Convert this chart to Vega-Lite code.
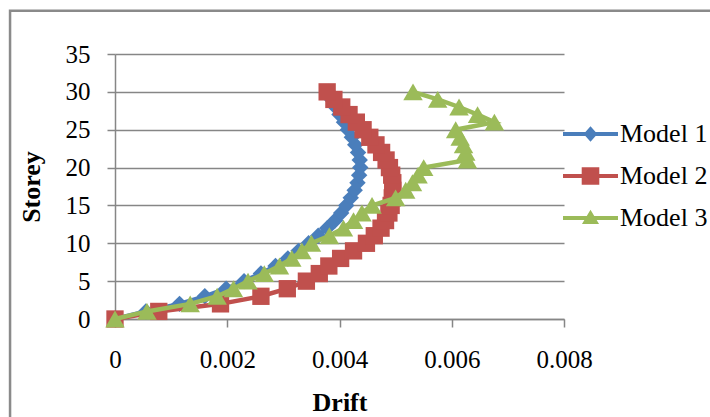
{
  "$schema": "https://vega.github.io/schema/vega-lite/v6.json",
  "autosize": {"type": "none"},
  "width": 449,
  "height": 265,
  "padding": {"left": 115, "top": 54, "right": 146, "bottom": 98},
  "background": "white",
  "config": {
    "font": "Liberation Serif",
    "view": {"stroke": null},
    "axis": {"labelFont": "Liberation Serif", "titleFont": "Liberation Serif", "labelFontSize": 25, "titleFontSize": 26, "titleFontWeight": "bold", "labelColor": "#000000", "titleColor": "#000000", "domainColor": "#868686", "domainWidth": 1.5, "tickColor": "#868686", "tickWidth": 1.5, "tickSize": 8, "gridColor": "#868686", "gridWidth": 1.5}
  },
  "datasets": {
    "drift": [
      {"model": "Model 1", "storey": 0, "drift": 0},
      {"model": "Model 1", "storey": 1, "drift": 0.00055},
      {"model": "Model 1", "storey": 2, "drift": 0.00115},
      {"model": "Model 1", "storey": 3, "drift": 0.0016},
      {"model": "Model 1", "storey": 4, "drift": 0.00198},
      {"model": "Model 1", "storey": 5, "drift": 0.0023},
      {"model": "Model 1", "storey": 6, "drift": 0.0026},
      {"model": "Model 1", "storey": 7, "drift": 0.00286},
      {"model": "Model 1", "storey": 8, "drift": 0.00308},
      {"model": "Model 1", "storey": 9, "drift": 0.00327},
      {"model": "Model 1", "storey": 10, "drift": 0.00345},
      {"model": "Model 1", "storey": 11, "drift": 0.00362},
      {"model": "Model 1", "storey": 12, "drift": 0.00378},
      {"model": "Model 1", "storey": 13, "drift": 0.00392},
      {"model": "Model 1", "storey": 14, "drift": 0.00403},
      {"model": "Model 1", "storey": 15, "drift": 0.00412},
      {"model": "Model 1", "storey": 16, "drift": 0.0042},
      {"model": "Model 1", "storey": 17, "drift": 0.00427},
      {"model": "Model 1", "storey": 18, "drift": 0.00432},
      {"model": "Model 1", "storey": 19, "drift": 0.00435},
      {"model": "Model 1", "storey": 20, "drift": 0.00437},
      {"model": "Model 1", "storey": 21, "drift": 0.00436},
      {"model": "Model 1", "storey": 22, "drift": 0.00433},
      {"model": "Model 1", "storey": 23, "drift": 0.00428},
      {"model": "Model 1", "storey": 24, "drift": 0.00422},
      {"model": "Model 1", "storey": 25, "drift": 0.00415},
      {"model": "Model 1", "storey": 26, "drift": 0.00408},
      {"model": "Model 1", "storey": 27, "drift": 0.004},
      {"model": "Model 1", "storey": 28, "drift": 0.00393},
      {"model": "Model 1", "storey": 29, "drift": 0.00386},
      {"model": "Model 1", "storey": 30, "drift": 0.0038},
      {"model": "Model 2", "storey": 0, "drift": 0},
      {"model": "Model 2", "storey": 1, "drift": 0.00078},
      {"model": "Model 2", "storey": 2, "drift": 0.00188},
      {"model": "Model 2", "storey": 3, "drift": 0.0026},
      {"model": "Model 2", "storey": 4, "drift": 0.00307},
      {"model": "Model 2", "storey": 5, "drift": 0.00341},
      {"model": "Model 2", "storey": 6, "drift": 0.00364},
      {"model": "Model 2", "storey": 7, "drift": 0.00381},
      {"model": "Model 2", "storey": 8, "drift": 0.00402},
      {"model": "Model 2", "storey": 9, "drift": 0.00425},
      {"model": "Model 2", "storey": 10, "drift": 0.00448},
      {"model": "Model 2", "storey": 11, "drift": 0.00462},
      {"model": "Model 2", "storey": 12, "drift": 0.00474},
      {"model": "Model 2", "storey": 13, "drift": 0.00482},
      {"model": "Model 2", "storey": 14, "drift": 0.00488},
      {"model": "Model 2", "storey": 15, "drift": 0.00492},
      {"model": "Model 2", "storey": 16, "drift": 0.00494},
      {"model": "Model 2", "storey": 17, "drift": 0.00495},
      {"model": "Model 2", "storey": 18, "drift": 0.00495},
      {"model": "Model 2", "storey": 19, "drift": 0.00493},
      {"model": "Model 2", "storey": 20, "drift": 0.00489},
      {"model": "Model 2", "storey": 21, "drift": 0.00483},
      {"model": "Model 2", "storey": 22, "drift": 0.00475},
      {"model": "Model 2", "storey": 23, "drift": 0.00465},
      {"model": "Model 2", "storey": 24, "drift": 0.00454},
      {"model": "Model 2", "storey": 25, "drift": 0.00442},
      {"model": "Model 2", "storey": 26, "drift": 0.0043},
      {"model": "Model 2", "storey": 27, "drift": 0.00417},
      {"model": "Model 2", "storey": 28, "drift": 0.00404},
      {"model": "Model 2", "storey": 29, "drift": 0.0039},
      {"model": "Model 2", "storey": 30, "drift": 0.00378},
      {"model": "Model 3", "storey": 0, "drift": 0},
      {"model": "Model 3", "storey": 1, "drift": 0.00057},
      {"model": "Model 3", "storey": 2, "drift": 0.00134},
      {"model": "Model 3", "storey": 3, "drift": 0.00182},
      {"model": "Model 3", "storey": 4, "drift": 0.00211},
      {"model": "Model 3", "storey": 5, "drift": 0.00237},
      {"model": "Model 3", "storey": 6, "drift": 0.00266},
      {"model": "Model 3", "storey": 7, "drift": 0.00293},
      {"model": "Model 3", "storey": 8, "drift": 0.00315},
      {"model": "Model 3", "storey": 9, "drift": 0.00333},
      {"model": "Model 3", "storey": 10, "drift": 0.0035},
      {"model": "Model 3", "storey": 11, "drift": 0.00382},
      {"model": "Model 3", "storey": 12, "drift": 0.00407},
      {"model": "Model 3", "storey": 13, "drift": 0.00425},
      {"model": "Model 3", "storey": 14, "drift": 0.0044},
      {"model": "Model 3", "storey": 15, "drift": 0.00458},
      {"model": "Model 3", "storey": 16, "drift": 0.005},
      {"model": "Model 3", "storey": 17, "drift": 0.00518},
      {"model": "Model 3", "storey": 18, "drift": 0.0053},
      {"model": "Model 3", "storey": 19, "drift": 0.0054},
      {"model": "Model 3", "storey": 20, "drift": 0.0055},
      {"model": "Model 3", "storey": 21, "drift": 0.00628},
      {"model": "Model 3", "storey": 22, "drift": 0.00625},
      {"model": "Model 3", "storey": 23, "drift": 0.00621},
      {"model": "Model 3", "storey": 24, "drift": 0.00615},
      {"model": "Model 3", "storey": 25, "drift": 0.00607},
      {"model": "Model 3", "storey": 26, "drift": 0.00676},
      {"model": "Model 3", "storey": 27, "drift": 0.00646},
      {"model": "Model 3", "storey": 28, "drift": 0.00613},
      {"model": "Model 3", "storey": 29, "drift": 0.00575},
      {"model": "Model 3", "storey": 30, "drift": 0.00531}
    ],
    "frame": [{"x0": -0.00187, "x1": 0.0108, "y0": 40.7, "y1": -14}]
  },
  "layer": [
    {
      "data": {"name": "frame"},
      "mark": {"type": "rect", "fill": "transparent", "stroke": "#8a8a8a", "strokeWidth": 2.5},
      "encoding": {
        "x": {"field": "x0", "type": "quantitative", "scale": {"domain": [0, 0.008], "nice": false, "zero": false},
          "axis": {"title": "Drift", "values": [0, 0.002, 0.004, 0.006, 0.008], "format": "~g", "grid": false, "labelPadding": 20, "titlePadding": 17, "labelFlush": false}},
        "x2": {"field": "x1"},
        "y": {"field": "y0", "type": "quantitative", "scale": {"domain": [0, 35], "nice": false, "zero": false},
          "axis": {"title": "Storey", "values": [0, 5, 10, 15, 20, 25, 30, 35], "grid": true, "labelPadding": 17, "titlePadding": 21}},
        "y2": {"field": "y1"}
      }
    },
    {
      "data": {"name": "drift"},
      "encoding": {
        "x": {"field": "drift", "type": "quantitative", "scale": {"domain": [0, 0.008], "nice": false, "zero": false},
          "axis": {"title": "Drift", "values": [0, 0.002, 0.004, 0.006, 0.008], "format": "~g", "grid": false, "labelPadding": 20, "titlePadding": 17, "labelFlush": false}},
        "y": {"field": "storey", "type": "quantitative", "scale": {"domain": [0, 35], "nice": false, "zero": false},
          "axis": {"title": "Storey", "values": [0, 5, 10, 15, 20, 25, 30, 35], "grid": true, "labelPadding": 17, "titlePadding": 21}},
        "order": {"field": "storey", "type": "quantitative"},
        "color": {"field": "model", "type": "nominal",
          "scale": {"domain": ["Model 1", "Model 2", "Model 3"], "range": ["#4A7EBB", "#C0504D", "#9BBB59"]},
          "legend": {
            "title": null, "orient": "none", "legendX": 448, "legendY": 52.5, "padding": 0,
            "symbolSize": 3025, "symbolStrokeWidth": 0, "labelOffset": 2, "rowPadding": 1,
            "labelFont": "Liberation Serif", "labelFontSize": 26, "labelColor": "#000000", "labelLimit": 200,
            "encode": {"symbols": {"update": {
              "shape": {"signal": "datum.value === 'Model 1' ? 'M-1,-0.075L1,-0.075L1,0.075L-1,0.075Z M0,-0.28L0.25,0L0,0.28L-0.25,0Z' : datum.value === 'Model 2' ? 'M-1,-0.075L1,-0.075L1,0.075L-1,0.075Z M-0.32,-0.32L0.32,-0.32L0.32,0.32L-0.32,0.32Z' : 'M-1,-0.075L1,-0.075L1,0.075L-1,0.075Z M0,-0.3L0.31,0.22L-0.31,0.22Z'"},
              "fill": {"signal": "scale('color', datum.value)"},
              "fillOpacity": {"value": 1},
              "stroke": {"value": "transparent"},
              "strokeWidth": {"value": 0}
            }}}
          }}
      },
      "layer": [
        {"transform": [{"filter": "datum.model === 'Model 1'"}], "mark": {"type": "line", "strokeWidth": 4.5}},
        {"transform": [{"filter": "datum.model === 'Model 1'"}], "mark": {"type": "point", "filled": true, "opacity": 1, "shape": "diamond", "size": 270}},
        {"transform": [{"filter": "datum.model === 'Model 2'"}], "mark": {"type": "line", "strokeWidth": 4.5}},
        {"transform": [{"filter": "datum.model === 'Model 2'"}], "mark": {"type": "point", "filled": true, "opacity": 1, "shape": "square", "size": 300}},
        {"transform": [{"filter": "datum.model === 'Model 3'"}], "mark": {"type": "line", "strokeWidth": 4.5}},
        {"transform": [{"filter": "datum.model === 'Model 3'"}], "mark": {"type": "point", "filled": true, "opacity": 1, "shape": "triangle-up", "size": 380}}
      ]
    }
  ]
}
